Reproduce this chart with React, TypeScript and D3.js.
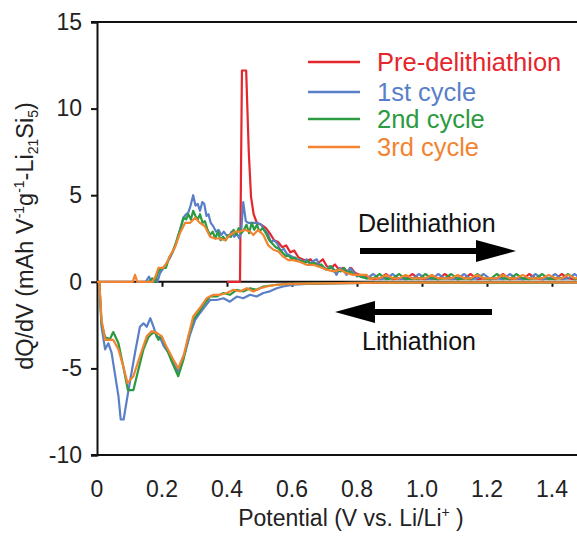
import React, { useEffect, useRef } from 'react';
import * as d3 from 'd3';

// x ticks (V vs Li/Li+) and y ticks (dQ/dV)
const potentialTicks = [0, 0.2, 0.4, 0.6, 0.8, 1.0, 1.2, 1.4];
const potentialLabels = ['0', '0.2', '0.4', '0.6', '0.8', '1.0', '1.2', '1.4'];
const dqdvTicks = [15, 10, 5, 0, -5, -10];

const seriesNames = ['Pre-delithiathion', '1st cycle', '2nd cycle', '3rd cycle'];
const seriesColors = ['#e5262c', '#5a7fc8', '#2c9a40', '#f28431'];

// delithiation branch, [V, dQ/dV]
const preDelith = [[0.40, 0], [0.44, 0], [0.446, 12.2], [0.459, 12.2], [0.467, 7.5], [0.474, 4.9], [0.482, 3.9], [0.492, 3.4], [0.505, 3.3], [0.52, 3.1], [0.532, 2.8], [0.545, 2.4], [0.557, 2.3], [0.57, 2.0], [0.582, 2.1], [0.595, 1.7], [0.607, 1.8], [0.62, 1.4], [0.632, 1.3], [0.645, 1.2], [0.657, 1.3], [0.67, 1.0], [0.682, 1.1], [0.695, 1.3], [0.707, 0.9], [0.72, 0.8], [0.732, 1.0], [0.745, 0.7], [0.757, 0.8], [0.77, 0.6], [0.782, 0.8], [0.795, 0.5], [0.808, 0.4], [0.83, 0.3]];
const cycle1Delith = [[0.15, 0], [0.16, 0.3], [0.167, 0], [0.175, 0], [0.18, 0.3], [0.186, 0], [0.194, 0.5], [0.205, 0.8], [0.215, 1.1], [0.225, 1.4], [0.235, 1.8], [0.243, 2.2], [0.25, 2.6], [0.258, 3.2], [0.266, 3.7], [0.274, 3.9], [0.281, 4.0], [0.288, 4.4], [0.296, 5.0], [0.303, 4.4], [0.31, 4.5], [0.317, 4.1], [0.324, 4.6], [0.33, 4.5], [0.337, 3.8], [0.343, 3.9], [0.35, 3.4], [0.358, 3.2], [0.366, 2.9], [0.374, 3.0], [0.382, 2.7], [0.39, 2.9], [0.398, 2.7], [0.406, 2.6], [0.414, 2.9], [0.422, 2.6], [0.43, 2.8], [0.438, 2.5], [0.444, 3.0], [0.45, 4.6], [0.458, 3.5], [0.466, 3.4], [0.475, 3.4], [0.485, 3.4], [0.495, 3.4], [0.505, 3.3], [0.515, 3.0], [0.525, 2.8], [0.535, 2.3], [0.545, 2.4], [0.555, 2.2], [0.565, 1.8], [0.575, 1.9], [0.585, 1.6], [0.595, 1.5], [0.605, 1.4], [0.615, 1.2], [0.625, 1.3], [0.635, 1.1], [0.645, 1.3], [0.655, 1.0], [0.665, 1.2], [0.676, 1.3], [0.686, 0.9], [0.696, 0.8], [0.706, 0.7], [0.716, 0.9], [0.726, 0.8], [0.737, 0.4], [0.747, 0.8], [0.757, 0.7], [0.768, 0.4], [0.778, 0.8], [0.788, 0.6], [0.8, 0.3], [0.81, 0.4], [0.83, 0.2]];
const cycle2Delith = [[0.16, 0], [0.17, 0.2], [0.178, 0], [0.189, 0.6], [0.2, 0.8], [0.212, 0.8], [0.222, 1.4], [0.232, 1.7], [0.242, 2.2], [0.25, 2.7], [0.258, 3.1], [0.266, 3.7], [0.274, 3.6], [0.281, 3.9], [0.289, 3.6], [0.296, 4.1], [0.303, 3.8], [0.31, 3.6], [0.317, 3.9], [0.325, 3.4], [0.332, 3.5], [0.34, 3.0], [0.348, 2.7], [0.356, 2.9], [0.364, 2.5], [0.372, 2.9], [0.38, 2.4], [0.388, 2.6], [0.396, 2.4], [0.404, 2.7], [0.412, 2.6], [0.42, 3.0], [0.428, 2.7], [0.436, 3.1], [0.444, 2.8], [0.452, 3.0], [0.46, 3.3], [0.468, 2.8], [0.476, 3.4], [0.484, 3.0], [0.492, 3.3], [0.5, 2.9], [0.51, 3.1], [0.52, 2.8], [0.53, 2.4], [0.54, 2.2], [0.55, 2.0], [0.56, 1.9], [0.57, 1.7], [0.58, 1.5], [0.59, 1.5], [0.6, 1.3], [0.61, 1.4], [0.62, 1.2], [0.63, 1.2], [0.64, 1.1], [0.65, 1.2], [0.66, 1.0], [0.67, 1.1], [0.68, 0.9], [0.69, 1.0], [0.7, 0.8], [0.71, 0.7], [0.72, 0.9], [0.73, 0.6], [0.74, 0.7], [0.75, 0.6], [0.76, 0.8], [0.77, 0.5], [0.78, 0.6], [0.79, 0.4], [0.8, 0.4], [0.81, 0.3], [0.83, 0.2]];
const cycle3Delith = [[0, 0], [0.11, 0], [0.117, 0.4], [0.124, 0], [0.17, 0], [0.18, 0.3], [0.189, 0.8], [0.204, 0.8], [0.215, 1.1], [0.225, 1.5], [0.24, 2.0], [0.255, 2.8], [0.271, 3.4], [0.286, 3.4], [0.302, 3.7], [0.317, 3.4], [0.332, 3.2], [0.348, 2.6], [0.363, 2.5], [0.378, 2.5], [0.394, 2.4], [0.409, 2.7], [0.425, 2.9], [0.44, 2.9], [0.455, 3.0], [0.471, 2.9], [0.481, 2.7], [0.496, 3.0], [0.512, 2.7], [0.527, 2.1], [0.543, 1.85], [0.558, 1.75], [0.573, 1.45], [0.589, 1.25], [0.604, 1.25], [0.625, 1.15], [0.645, 0.98], [0.666, 0.98], [0.686, 0.85], [0.707, 0.7], [0.727, 0.6], [0.748, 0.7], [0.768, 0.5], [0.789, 0.4], [0.81, 0.4], [0.83, 0.4], [0.84, 0.15]];

// flat noisy tail above ~0.85 V
const tailV = [0.85, 0.87, 0.89, 0.91, 0.93, 0.95, 0.97, 0.99, 1.01, 1.03, 1.05, 1.07, 1.09, 1.11, 1.13, 1.15, 1.17, 1.19, 1.21, 1.23, 1.25, 1.27, 1.29, 1.31, 1.33, 1.35, 1.37, 1.39, 1.41, 1.43, 1.45, 1.47, 1.49];
const preTail = [0.15, 0.2, 0.45, 0.15, 0.2, 0.15, 0.45, 0.2, 0.15, 0.2, 0.15, 0.45, 0.2, 0.15, 0.2, 0.45, 0.15, 0.2, 0.15, 0.2, 0.45, 0.15, 0.2, 0.15, 0.45, 0.2, 0.15, 0.2, 0.15, 0.45, 0.2, 0.15, 0.2];
const cycle1Tail = [0.45, 0.15, 0.2, 0.45, 0.15, 0.2, 0.15, 0.45, 0.2, 0.15, 0.45, 0.2, 0.15, 0.2, 0.45, 0.15, 0.2, 0.45, 0.15, 0.2, 0.15, 0.45, 0.2, 0.15, 0.2, 0.45, 0.15, 0.2, 0.45, 0.15, 0.2, 0.45, 0.15];
const cycle2Tail = [0.2, 0.45, 0.15, 0.2, 0.45, 0.15, 0.2, 0.15, 0.45, 0.2, 0.15, 0.2, 0.45, 0.15, 0.2, 0.15, 0.45, 0.2, 0.15, 0.45, 0.2, 0.15, 0.45, 0.2, 0.15, 0.2, 0.45, 0.15, 0.2, 0.2, 0.45, 0.15, 0.2];
const cycle3Tail = [0.2, 0.2, 0.4, 0.2, 0.2, 0.4, 0.2, 0.2, 0.2, 0.4, 0.2, 0.2, 0.2, 0.4, 0.2, 0.2, 0.4, 0.2, 0.2, 0.2, 0.4, 0.2, 0.2, 0.4, 0.2, 0.2, 0.2, 0.4, 0.2, 0.2, 0.4, 0.2, 0.2];

// lithiation branch
const cycle1Lith = [[0.007, 0], [0.014, -2.6], [0.025, -3.9], [0.035, -3.55], [0.045, -4.1], [0.055, -5.3], [0.066, -6.6], [0.073, -7.95], [0.082, -7.95], [0.092, -6.8], [0.102, -5.7], [0.117, -4.1], [0.132, -2.6], [0.143, -2.4], [0.153, -2.6], [0.164, -2.1], [0.174, -2.6], [0.184, -3.2], [0.194, -3.2], [0.205, -3.7], [0.22, -4.1], [0.235, -4.6], [0.248, -5.2], [0.261, -4.5], [0.271, -4.1], [0.287, -3.0], [0.302, -2.2], [0.317, -1.8], [0.333, -1.4], [0.348, -1.05], [0.368, -1.05], [0.389, -0.95], [0.409, -1.15], [0.43, -0.85], [0.45, -0.95], [0.471, -0.75], [0.491, -0.85], [0.512, -0.65], [0.532, -0.55], [0.553, -0.37], [0.573, -0.27], [0.604, -0.17], [0.645, -0.12], [0.75, -0.08], [0.9, -0.05], [1.48, -0.04]];
const cycle2Lith = [[0.007, 0], [0.014, -2.4], [0.025, -3.2], [0.04, -3.3], [0.05, -2.9], [0.066, -3.55], [0.081, -4.9], [0.095, -6.25], [0.112, -6.25], [0.127, -5.1], [0.143, -3.9], [0.158, -3.2], [0.168, -3.0], [0.179, -2.9], [0.189, -3.35], [0.199, -3.15], [0.215, -3.9], [0.23, -4.6], [0.25, -5.45], [0.266, -4.5], [0.281, -3.2], [0.296, -2.2], [0.312, -1.8], [0.327, -1.35], [0.348, -0.85], [0.368, -0.85], [0.389, -0.65], [0.409, -0.75], [0.43, -0.46], [0.45, -0.56], [0.471, -0.37], [0.491, -0.46], [0.512, -0.27], [0.553, -0.17], [0.594, -0.12], [0.75, -0.08], [0.9, -0.05], [1.48, -0.04]];
const cycle3Lith = [[0.007, 0], [0.014, -2.2], [0.025, -3.35], [0.05, -3.35], [0.066, -3.9], [0.081, -4.9], [0.094, -5.85], [0.112, -5.45], [0.132, -4.3], [0.153, -3.15], [0.168, -2.85], [0.184, -2.95], [0.199, -3.15], [0.214, -3.75], [0.235, -4.5], [0.25, -5.0], [0.266, -4.3], [0.281, -3.15], [0.296, -2.0], [0.317, -1.5], [0.337, -0.95], [0.358, -0.75], [0.378, -0.75], [0.399, -0.65], [0.42, -0.46], [0.44, -0.56], [0.461, -0.37], [0.481, -0.56], [0.502, -0.37], [0.522, -0.27], [0.553, -0.17], [0.594, -0.12], [0.645, -0.1], [0.75, -0.08], [0.9, -0.05], [1.48, -0.03]];

const WIDTH = 577;
const HEIGHT = 536;
const FONT = 'Liberation Sans, Arial, Helvetica, sans-serif';

const App = () => {
  const svgRef = useRef<SVGSVGElement | null>(null);

  useEffect(() => {
    const svg = d3.select(svgRef.current);
    svg.selectAll('*').remove();

    const x = d3.scaleLinear().domain([0, 1.477]).range([97, 577]);
    const y = d3.scaleLinear().domain([-10, 15]).range([455, 22]);

    // frame: top line and bottom line
    svg.append('line').attr('x1', 91).attr('x2', WIDTH).attr('y1', y(15)).attr('y2', y(15))
      .attr('stroke', '#111').attr('stroke-width', 2);
    svg.append('line').attr('x1', 91).attr('x2', WIDTH).attr('y1', y(-10)).attr('y2', y(-10))
      .attr('stroke', '#111').attr('stroke-width', 2);

    // y axis with outward ticks
    const yAxis = svg.append('g')
      .attr('transform', `translate(${x(0)},0)`)
      .call(d3.axisLeft(y).tickValues(dqdvTicks).tickSize(6).tickPadding(9).tickFormat(d3.format('d')));
    yAxis.select('.domain').attr('stroke', '#111').attr('stroke-width', 2);
    yAxis.selectAll('.tick line').attr('stroke', '#111').attr('stroke-width', 2);
    yAxis.selectAll('.tick text').attr('font-family', FONT).attr('font-size', 23).attr('fill', '#222')
      .text((d: any) => (d < 0 ? '-' + Math.abs(d) : String(d)));

    // zero axis with downward ticks (labels live below the frame)
    const zeroAxis = svg.append('g')
      .attr('transform', `translate(0,${y(0)})`)
      .call(d3.axisBottom(x).tickValues(potentialTicks.slice(1)).tickSize(5).tickFormat(() => ''));
    zeroAxis.select('.domain').attr('stroke', '#111').attr('stroke-width', 2).attr('d', `M${x(0)},0H${WIDTH}`);
    zeroAxis.selectAll('.tick line').attr('stroke', '#111').attr('stroke-width', 2);

    svg.append('g').selectAll('text')
      .data(potentialTicks)
      .join('text')
      .attr('x', d => x(d))
      .attr('y', 497)
      .attr('text-anchor', 'middle')
      .attr('font-family', FONT)
      .attr('font-size', 23)
      .attr('fill', '#222')
      .text((d, i) => potentialLabels[i]);

    const line = d3.line<number[]>().x(d => x(d[0])).y(d => y(d[1]));

    const delith = [preDelith, cycle1Delith, cycle2Delith, cycle3Delith];
    const tails = [preTail, cycle1Tail, cycle2Tail, cycle3Tail];
    const lith = [null, cycle1Lith, cycle2Lith, cycle3Lith];

    const plot = svg.append('g');
    delith.forEach((data, i) => {
      const full = data.concat(tailV.map((v, j) => [v, tails[i][j]]));
      plot.append('path')
        .attr('d', line(full))
        .attr('fill', 'none')
        .attr('stroke', seriesColors[i])
        .attr('stroke-width', 2.2)
        .attr('stroke-linejoin', 'round');
      const l = lith[i];
      if (l) {
        plot.append('path')
          .attr('d', line(l))
          .attr('fill', 'none')
          .attr('stroke', seriesColors[i])
          .attr('stroke-width', 2.2)
          .attr('stroke-linejoin', 'round');
      }
    });

    // legend
    const legendY = [62, 92, 119, 147];
    const legend = svg.append('g');
    seriesNames.forEach((name, i) => {
      legend.append('line').attr('x1', 308).attr('x2', 360).attr('y1', legendY[i]).attr('y2', legendY[i])
        .attr('stroke', seriesColors[i]).attr('stroke-width', 2.5);
      legend.append('text').attr('x', 377).attr('y', legendY[i] + 9)
        .attr('font-family', FONT).attr('font-size', 25.5).attr('fill', seriesColors[i]).text(name);
    });

    // direction arrows
    const arrow = (x0: number, x1: number, yy: number) => {
      const dir = Math.sign(x1 - x0);
      const headBase = x1 - dir * 40;
      svg.append('line').attr('x1', x0).attr('x2', headBase).attr('y1', yy).attr('y2', yy)
        .attr('stroke', '#000').attr('stroke-width', 6);
      svg.append('path').attr('d', `M${x1},${yy}L${headBase},${yy - 11}L${headBase},${yy + 11}Z`).attr('fill', '#000');
    };
    arrow(360, 516, 251);
    arrow(492, 335, 312);
    svg.append('text').attr('x', 358).attr('y', 232).attr('font-family', FONT).attr('font-size', 25)
      .attr('fill', '#111').text('Delithiathion');
    svg.append('text').attr('x', 362).attr('y', 350).attr('font-family', FONT).attr('font-size', 25)
      .attr('fill', '#111').text('Lithiathion');

    // axis titles
    const xt = svg.append('text').attr('x', 351).attr('y', 526).attr('text-anchor', 'middle')
      .attr('font-family', FONT).attr('font-size', 23).attr('fill', '#222');
    xt.append('tspan').text('Potential (V vs. Li/Li');
    xt.append('tspan').attr('font-size', 14).attr('dy', -9).text('+');
    xt.append('tspan').attr('dy', 9).text(' )');

    const yt = svg.append('text').attr('transform', `translate(33,236) rotate(-90)`).attr('text-anchor', 'middle')
      .attr('font-family', FONT).attr('font-size', 23.5).attr('fill', '#222');
    yt.append('tspan').text('dQ/dV (mAh V');
    yt.append('tspan').attr('font-size', 14).attr('dy', -9).text('-1');
    yt.append('tspan').attr('dy', 9).text('g');
    yt.append('tspan').attr('font-size', 14).attr('dy', -9).text('-1');
    yt.append('tspan').attr('dy', 9).text('-Li');
    yt.append('tspan').attr('font-size', 14).attr('dy', 5).text('21');
    yt.append('tspan').attr('dy', -5).text('Si');
    yt.append('tspan').attr('font-size', 14).attr('dy', 5).text('5');
    yt.append('tspan').attr('dy', -5).text(')');
  }, []);

  return (
    <div>
      <svg ref={svgRef} width={WIDTH} height={HEIGHT}
        style={{ position: 'absolute', left: 0, top: 0, background: '#fff' }} />
    </div>
  );
};

export default App;
